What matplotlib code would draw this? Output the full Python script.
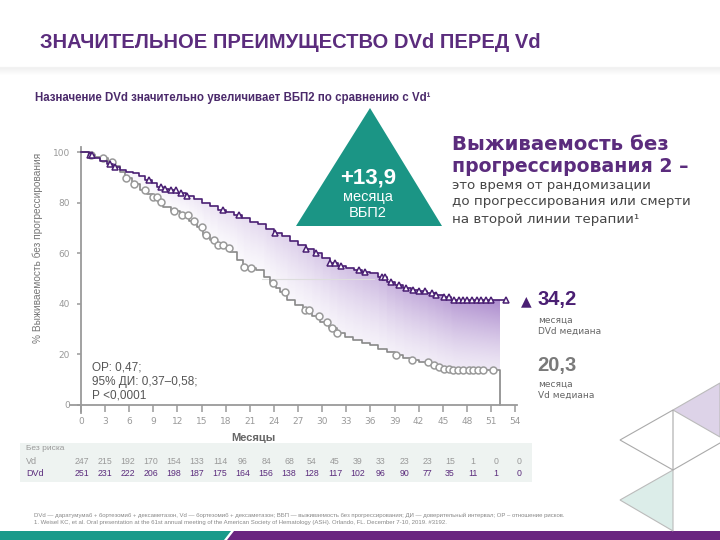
import numpy as np
import matplotlib.pyplot as plt
from matplotlib.patches import Polygon, Rectangle
from matplotlib import font_manager

# Кривые ВБП2 (месяцы, %)
dvd_t = [0, 1.0, 1.6, 2.4, 3.2, 4.0, 4.8, 5.6, 6.5, 7.2, 8.0, 8.8, 9.4, 10.2, 11.0, 12.0, 13.0, 14.0,
         15.0, 16.0, 17.0, 18.0, 19.0, 20.0, 21.0, 22.0, 23.0, 24.0, 25.0, 26.0, 27.0, 28.0, 29.0, 30.0,
         31.0, 32.0, 33.0, 34.0, 35.0, 36.0, 37.0, 38.0, 39.0, 40.0, 41.0, 42.0, 43.0, 44.0, 45.0, 46.0, 53.0]
dvd_s = [100, 98.8, 97.6, 96.4, 95.2, 94.2, 93.0, 92.2, 91.6, 90.4, 89.0, 87.8, 86.3, 85.5, 84.8, 83.7,
         82.6, 81.4, 79.8, 78.6, 77.2, 76.3, 75.1, 74.0, 72.4, 71.5, 69.6, 68.0, 66.8, 64.9, 63.3, 61.8,
         59.9, 58.0, 56.2, 55.0, 54.3, 53.4, 52.6, 52.0, 50.6, 48.5, 47.4, 46.4, 45.6, 45.0, 44.3, 43.6,
         42.8, 41.6, 41.6]
vd_t = [0, 1.0, 1.8, 2.6, 3.4, 4.0, 4.8, 5.5, 6.3, 7.3, 8.2, 9.0, 9.6, 10.2, 11.2, 12.3, 13.4, 14.4,
        15.2, 16.0, 16.9, 17.7, 18.5, 19.4, 20.2, 21.0, 21.8, 22.7, 23.5, 24.2, 24.7, 25.6, 26.6, 27.6,
        28.7, 29.7, 30.8, 31.8, 32.8, 33.8, 34.9, 35.9, 37.0, 38.0, 39.0, 40.1, 41.1, 42.1, 43.2, 44.2,
        45.2, 46.2, 52.1]
vd_s = [100, 98.8, 98.0, 97.6, 96.0, 94.5, 92.2, 89.7, 87.4, 85.0, 83.4, 82.3, 80.2, 78.4, 76.8, 75.1,
        72.8, 70.5, 67.2, 65.3, 63.2, 62.0, 60.6, 57.5, 54.7, 54.0, 53.4, 50.6, 48.2, 46.3, 44.8, 41.5,
        39.6, 37.5, 35.2, 33.0, 30.6, 28.5, 27.0, 25.7, 24.6, 23.7, 22.3, 21.0, 19.7, 18.5, 17.8, 17.0,
        16.0, 15.0, 14.4, 13.8, 0.0]

# цензурированные наблюдения
dvd_cens = [1.1, 1.4, 3.6, 4.2, 8.4, 9.9, 10.4, 11.2, 11.8, 12.4, 13.2, 17.6, 19.6, 24.1, 28.0, 29.2,
            31.0, 31.6, 32.4, 34.6, 35.3, 37.4, 37.8, 38.6, 39.6, 40.4, 41.3, 42.0, 42.8, 43.6, 44.2,
            45.2, 45.8, 46.4, 47.0, 47.5, 48.0, 48.6, 49.2, 49.8, 50.4, 51.0, 52.9]
vd_cens = [1.2, 2.7, 3.8, 5.6, 6.6, 8.0, 9.0, 9.4, 10.0, 11.6, 12.6, 13.3, 14.1, 15.0, 15.5, 16.6,
           17.1, 17.6, 18.4, 20.3, 21.1, 23.9, 25.4, 27.9, 28.4, 29.6, 30.6, 31.2, 31.8, 39.2, 41.2,
           43.1, 43.9, 44.5, 45.2, 45.8, 46.3, 46.9, 47.5, 48.2, 48.8, 49.4, 50.0, 51.3]

# число пациентов под риском
risk_vd = [247, 215, 192, 170, 154, 133, 114, 96, 84, 68, 54, 45, 39, 33, 23, 23, 15, 1, 0, 0]
risk_dvd = [251, 231, 222, 206, 198, 187, 175, 164, 156, 138, 128, 117, 102, 96, 90, 77, 35, 11, 1, 0]

x_ticks = list(range(0, 55, 3))
y_ticks = list(range(0, 101, 20))

PURPLE = '#5b2c7d'
DARK_PURPLE = '#4a1f73'
TEAL = '#1b9585'

installed = {f.name for f in font_manager.fontManager.ttflist}
if 'Liberation Sans Narrow' in installed:
    sub_font, sub_size = 'Liberation Sans Narrow', 10.3
else:
    sub_font, sub_size = 'Liberation Sans', 8.3


def step_at(t, s, x):
    t = np.asarray(t)
    s = np.asarray(s)
    idx = np.searchsorted(t, x, side='right') - 1
    return s[np.clip(idx, 0, len(s) - 1)]


fig = plt.figure(figsize=(7.2, 5.4), dpi=100)
fig.patch.set_facecolor('white')

# фон слайда в пиксельных координатах
bg = fig.add_axes([0, 0, 1, 1])
bg.set_xlim(0, 720)
bg.set_ylim(540, 0)
bg.axis('off')
bg.set_zorder(0)

# тень под шапкой
for i in range(8):
    bg.axhline(67 + i, color='#000000', alpha=0.045 * (8 - i) / 8, lw=1)

bg.text(40, 43, 'ЗНАЧИТЕЛЬНОЕ ПРЕИМУЩЕСТВО DVd ПЕРЕД Vd', fontsize=14.5, fontweight='bold',
        color=PURPLE, family='Liberation Sans', va='center')
bg.text(35, 98, 'Назначение DVd значительно увеличивает ВБП2 по сравнению с Vd¹', fontsize=sub_size,
        fontweight='bold', color='#4b2a6b', family=sub_font, va='center')

# бирюзовый треугольник
bg.add_patch(Polygon([(370, 108), (296, 226), (442, 226)], closed=True, facecolor=TEAL, edgecolor='none'))
bg.text(368, 178, '+13,9', fontsize=16, fontweight='bold', color='white', ha='center', va='center',
        family='Liberation Sans')
bg.text(368, 197, 'месяца', fontsize=10.5, color='white', ha='center', va='center', family='Liberation Sans')
bg.text(368, 213, 'ВБП2', fontsize=10.5, color='white', ha='center', va='center', family='Liberation Sans')

# определение ВБП2
bg.text(452, 145, 'Выживаемость без', fontsize=14.2, fontweight='bold', color=PURPLE, va='center',
        family='DejaVu Sans')
bg.text(452, 167, 'прогрессирования 2 –', fontsize=13.6, fontweight='bold', color=PURPLE, va='center',
        family='DejaVu Sans')
bg.text(452, 186, 'это время от рандомизации', fontsize=9.6, color='#454545', va='center', family='DejaVu Sans')
bg.text(452, 202, 'до прогрессирования или смерти', fontsize=9.6, color='#454545', va='center',
        family='DejaVu Sans')
bg.text(452, 219, 'на второй линии терапии¹', fontsize=9.6, color='#454545', va='center', family='DejaVu Sans')

# медианы
bg.text(526, 301, '▲', fontsize=10, color=DARK_PURPLE, ha='center', va='center', family='DejaVu Sans')
bg.text(537, 300, '34,2', fontsize=14.5, fontweight='bold', color=DARK_PURPLE, va='center',
        family='Liberation Sans')
bg.text(538, 320, 'месяца', fontsize=6.5, color='#666666', va='center', family='DejaVu Sans')
bg.text(538, 331, 'DVd медиана', fontsize=6.5, color='#666666', va='center', family='DejaVu Sans')
bg.text(537, 365, '20,3', fontsize=14.5, fontweight='bold', color='#7a7a7a', va='center',
        family='Liberation Sans')
bg.text(538, 384, 'месяца', fontsize=6.5, color='#666666', va='center', family='DejaVu Sans')
bg.text(538, 395, 'Vd медиана', fontsize=6.5, color='#666666', va='center', family='DejaVu Sans')

# ОР
bg.text(92, 368, 'ОР: 0,47;', fontsize=8.5, color='#555555', va='center', family='Liberation Sans')
bg.text(92, 382, '95% ДИ: 0,37–0,58;', fontsize=8.5, color='#555555', va='center', family='Liberation Sans')
bg.text(92, 395, 'Р <0,0001', fontsize=8.5, color='#555555', va='center', family='Liberation Sans')

bg.text(38, 248, '% Выживаемость без прогрессирования', fontsize=7.3, color='#777777', rotation=90,
        ha='center', va='center', family='Liberation Sans')
bg.text(253, 438, 'Месяцы', fontsize=8, fontweight='bold', color='#666666', ha='center', va='center',
        family='Liberation Sans')

# таблица «без риска»
bg.add_patch(Rectangle((20, 443), 512, 39, facecolor='#eef3f1', edgecolor='none'))
bg.text(26, 449, 'Без риска', fontsize=6, color='#999999', va='center', family='Liberation Sans')
bg.text(26, 461.5, 'Vd', fontsize=6.5, color='#999999', va='center', family='Liberation Sans')
bg.text(26, 473, 'DVd', fontsize=6.5, color=PURPLE, va='center', family='Liberation Sans')
cols = np.linspace(82, 519, len(risk_vd))
for cx, a, b in zip(cols, risk_vd, risk_dvd):
    bg.text(cx, 461.5, str(a), fontsize=6.3, color='#999999', ha='center', va='center', family='Liberation Sans')
    bg.text(cx, 473, str(b), fontsize=6.3, color=PURPLE, ha='center', va='center', family='Liberation Sans')

# сноски
bg.text(34, 515, 'DVd — даратумумаб + бортезомиб + дексаметазон, Vd — бортезомиб + дексаметазон; '
        'ВБП — выживаемость без прогрессирования; ДИ — доверительный интервал; ОР – отношение рисков.',
        fontsize=4.3, color='#888888', va='center', family='Liberation Sans')
bg.text(34, 522.5, '1. Weisel KC, et al. Oral presentation at the 61st annual meeting of the American Society '
        'of Hematology (ASH). Orlando, FL. December 7-10, 2019. #3192.',
        fontsize=4.3, color='#888888', va='center', family='Liberation Sans')

# нижняя полоса
bg.add_patch(Polygon([(0, 531), (231, 531), (224, 540), (0, 540)], facecolor='#1a9a8a', edgecolor='none'))
bg.add_patch(Polygon([(234, 531), (720, 531), (720, 540), (227, 540)], facecolor='#6a2580', edgecolor='none'))

# декоративные треугольники
bg.add_patch(Polygon([(673, 410), (720, 383), (720, 437)], facecolor='#ddd3e8', edgecolor='#bbbbbb', lw=0.8))
bg.add_patch(Polygon([(620, 440), (673, 410), (673, 470)], facecolor='white', edgecolor='#aaaaaa', lw=0.8))
bg.add_patch(Polygon([(620, 500), (673, 470), (673, 531)], facecolor='#dcede9', edgecolor='#bbbbbb', lw=0.8))
bg.plot([673, 720], [470, 443], color='#aaaaaa', lw=0.8)

# график
x0, x1 = -1.37, 54.2
y0, y1 = -3, 102
px = lambda m: 81 + m * 8.04
py = lambda p: 405 - p * 2.53
left, right = px(x0), px(x1)
top, bottom = py(y1), py(y0)
ax = fig.add_axes([left / 720, 1 - bottom / 540, (right - left) / 720, (bottom - top) / 540])
ax.set_zorder(1)
ax.patch.set_alpha(0)

# градиентная заливка между кривыми
xg = np.linspace(0, 52, 700)
yg = np.linspace(0, 100, 500)
d = step_at(dvd_t, dvd_s, xg)
v = step_at(vd_t, vd_s, xg)
X, Y = np.meshgrid(xg, yg)
D = np.broadcast_to(d, X.shape)
V = np.broadcast_to(v, X.shape)
frac = np.clip((Y - V) / np.maximum(D - V, 1e-6), 0, 1)
inside = (Y >= V) & (Y <= D)
alpha = (0.06 + 0.6 * (X / 52) ** 1.6) * (0.2 + 0.8 * frac ** 1.3) * inside
img = np.zeros(X.shape + (4,))
img[..., 0] = 0.50
img[..., 1] = 0.30
img[..., 2] = 0.70
img[..., 3] = alpha
ax.imshow(img, extent=[0, 52, 0, 100], origin='lower', aspect='auto', interpolation='bilinear', zorder=1)

ax.plot([22.5, 36.5], [50, 50], color='#dddddd', lw=0.8, zorder=1.5)

ax.step(vd_t, vd_s, where='post', color='#888888', lw=1.2, zorder=2)
ax.step(dvd_t, dvd_s, where='post', color=DARK_PURPLE, lw=1.2, zorder=3)
ax.plot(vd_cens, step_at(vd_t, vd_s, vd_cens), 'o', ms=5, mfc='white', mec='#999999', mew=1.1, zorder=2.5)
ax.plot(dvd_cens, step_at(dvd_t, dvd_s, dvd_cens), '^', ms=5, mfc='white', mec=DARK_PURPLE, mew=1.1, zorder=3.5)

ax.set_xlim(x0, x1)
ax.set_ylim(y0, y1)
ax.set_xticks(x_ticks)
ax.set_yticks(y_ticks)
for s in ['top', 'right']:
    ax.spines[s].set_visible(False)
for s in ['left', 'bottom']:
    ax.spines[s].set_color('#9a9a9a')
    ax.spines[s].set_linewidth(1.3)
    ax.spines[s].set_position(('data', 0))
ax.tick_params(axis='x', direction='out', length=5, width=1.1, color='#9a9a9a', labelsize=6.5,
               labelcolor='#999999', pad=4)
ax.tick_params(axis='y', direction='out', length=3, width=1.1, color='#9a9a9a', labelsize=6.5,
               labelcolor='#999999', pad=5)

fig.savefig('out.png', dpi=100)
